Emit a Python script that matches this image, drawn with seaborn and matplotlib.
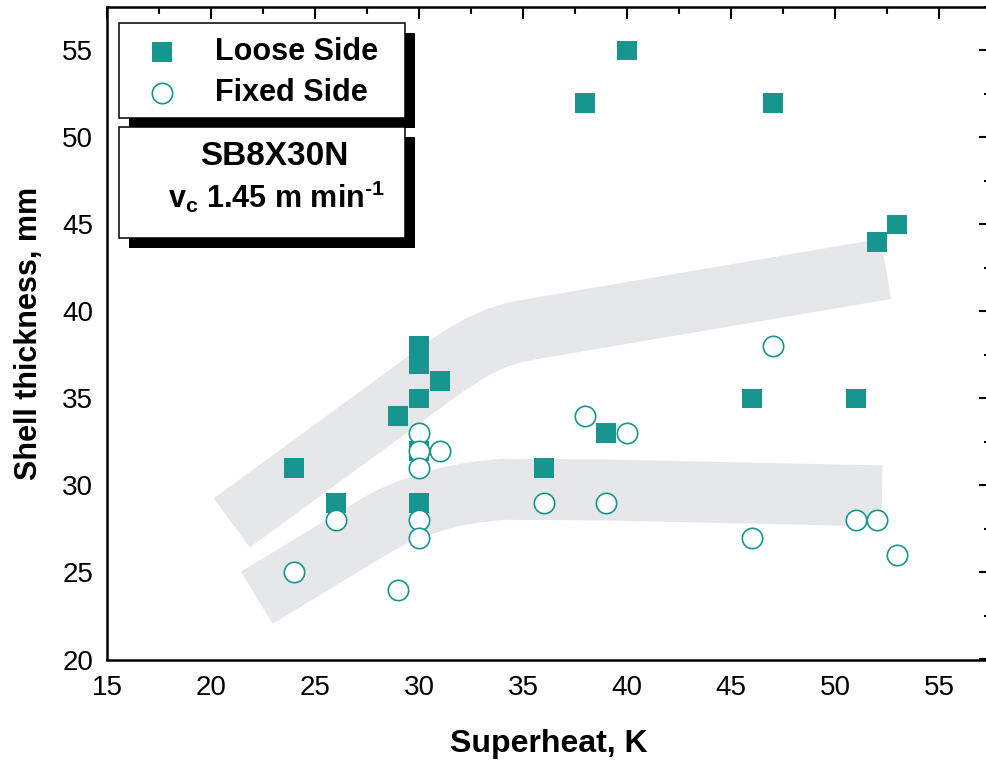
import matplotlib
matplotlib.use("Agg")
import matplotlib.pyplot as plt
from matplotlib.patches import Rectangle
from matplotlib.ticker import MultipleLocator
import seaborn as sns
import pandas as pd

sns.set_style("white")
plt.rcParams['font.family'] = ['Liberation Sans', 'DejaVu Sans']
plt.rcParams['mathtext.fontset'] = 'custom'
plt.rcParams['mathtext.rm'] = 'Liberation Sans:bold'
plt.rcParams['mathtext.bf'] = 'Liberation Sans:bold'
plt.rcParams['mathtext.it'] = 'Liberation Sans:bold'
plt.rcParams['text.color'] = 'black'
plt.rcParams['axes.labelcolor'] = 'black'
plt.rcParams['xtick.color'] = 'black'
plt.rcParams['ytick.color'] = 'black'

# ---- data ----
loose_x = [24, 26, 29, 30, 30, 30, 30, 30, 31, 36, 38, 39, 40, 46, 47, 51, 52, 53]
loose_y = [31, 29, 34, 38, 37, 35, 32, 29, 36, 31, 52, 33, 55, 35, 52, 35, 44, 45]
fixed_x = [24, 26, 29, 30, 30, 30, 30, 30, 31, 36, 38, 39, 40, 46, 47, 51, 52, 53]
fixed_y = [25, 28, 24, 33, 32, 31, 28, 27, 32, 29, 34, 29, 33, 27, 38, 28, 28, 26]

# shaded band centre lines
upper_band_x = [21.0, 31.3, 32.2, 33.0, 33.8, 34.6, 35.5, 52.45]
upper_band_y = [27.85, 36.85, 37.55, 38.1, 38.5, 38.8, 39.0, 42.45]
lower_band_x = [22.2, 28.0, 28.8, 29.6, 30.5, 31.5, 32.6, 34.0, 38.7, 44.5, 52.26]
lower_band_y = [23.55, 27.75, 28.25, 28.65, 29.0, 29.35, 29.6, 29.78, 29.75, 29.6, 29.4]

x_ticks = [15, 20, 25, 30, 35, 40, 45, 50, 55]
y_ticks = [20, 25, 30, 35, 40, 45, 50, 55]

TEAL = '#16968f'
BAND = '#e6e7e8'

W, H = 986, 762
fig = plt.figure(figsize=(W / 100, H / 100), dpi=100)
ax = fig.add_axes([107 / W, (H - 659.5) / H, 884 / W, 652.5 / H])

band_lw = 61 * 72 / 100
ax.plot(upper_band_x, upper_band_y, color=BAND, lw=band_lw,
        solid_capstyle='butt', solid_joinstyle='round', zorder=1)
ax.plot(lower_band_x, lower_band_y, color=BAND, lw=band_lw,
        solid_capstyle='butt', solid_joinstyle='round', zorder=1)

df_loose = pd.DataFrame({'x': loose_x, 'y': loose_y})
df_fixed = pd.DataFrame({'x': fixed_x, 'y': fixed_y})
sns.scatterplot(data=df_loose, x='x', y='y', ax=ax, marker='s', s=205,
                color=TEAL, edgecolor='none', linewidth=0, zorder=3,
                label='Loose Side')
sns.scatterplot(data=df_fixed, x='x', y='y', ax=ax, marker='o', s=215,
                color='white', edgecolor=TEAL, linewidth=1.2, zorder=4,
                label='Fixed Side')

ax.set_xlim(15, 57.5)
ax.set_ylim(20, 57.5)
ax.set_xticks(x_ticks)
ax.set_yticks(y_ticks)
ax.xaxis.set_minor_locator(MultipleLocator(2.5))
ax.yaxis.set_minor_locator(MultipleLocator(2.5))
ax.tick_params(which='both', direction='in', top=True, right=True,
               width=1.5, color='black', labelcolor='black')
ax.tick_params(which='major', length=8.6)
ax.tick_params(which='minor', length=5)
ax.tick_params(axis='x', which='major', labelsize=20, pad=11)
ax.tick_params(axis='y', which='major', labelsize=20, pad=10)
for sp in ax.spines.values():
    sp.set_linewidth(1.8)
    sp.set_color('black')

ax.set_xlabel('Superheat, K', fontsize=23, fontweight='bold', labelpad=20,
              color='black')
ax.set_ylabel('Shell thickness, mm', fontsize=22, fontweight='bold', labelpad=13,
              color='black')

# legend boxes with offset black shadows
def fig_rect(x0, y0, x1, y1, **kw):
    return Rectangle((x0 / W, (H - y1) / H), (x1 - x0) / W, (y1 - y0) / H,
                     transform=fig.transFigure, **kw)

for (x0, y0, x1, y1) in [(119, 23, 405, 118), (119, 127, 405, 238)]:
    fig.patches.append(fig_rect(x0 + 10, y0 + 10, x1 + 10, y1 + 10,
                                facecolor='black', edgecolor='none', zorder=10))
    fig.patches.append(fig_rect(x0, y0, x1, y1, facecolor='white',
                                edgecolor='black', linewidth=1.1, zorder=11))

handles, labels = ax.get_legend_handles_labels()
leg = fig.legend(handles, labels, loc='upper left',
                 bbox_to_anchor=(140 / W, (H - 37) / H),
                 bbox_transform=fig.transFigure, frameon=False,
                 prop={'weight': 'bold', 'size': 22}, handlelength=1.45,
                 handletextpad=1.0, labelspacing=0.36, borderpad=0,
                 borderaxespad=0, labelcolor='black')
leg.set_zorder(12)
if ax.get_legend() is not None:
    ax.get_legend().remove()

fig.text(274 / W, (H - 165) / H, 'SB8X30N', fontsize=24, fontweight='bold',
         ha='center', va='baseline', zorder=13, color='black')
fig.text(276 / W, (H - 208) / H, 'v$_\\mathbf{c}$ 1.45 m min$^\\mathbf{\u20101}$',
         fontsize=22, fontweight='bold', ha='center', va='baseline', zorder=13,
         color='black')

fig.savefig('out.png', dpi=100)
